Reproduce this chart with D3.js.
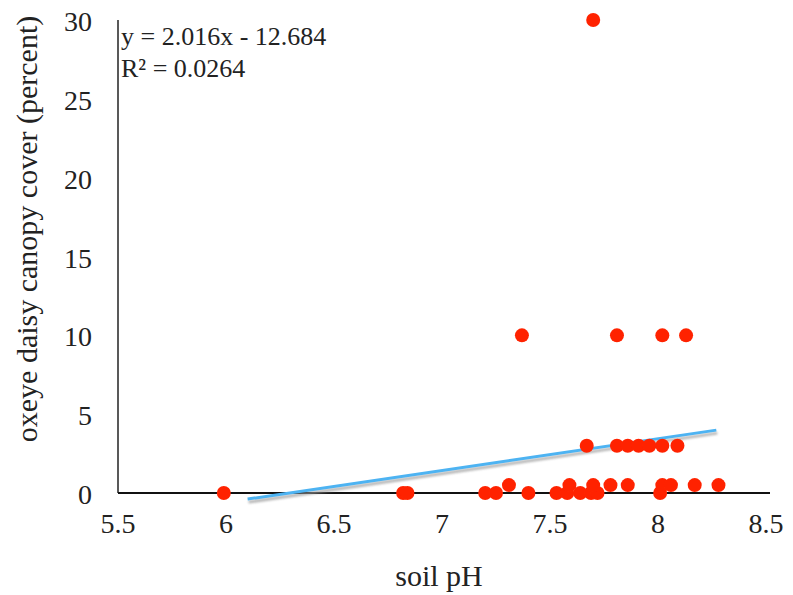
<!DOCTYPE html>
<html lang="en">
<head>
    <meta charset="UTF-8">
    <title>oxeye daisy vs soil pH</title>
    <script src="https://d3js.org/d3.v7.min.js"></script>
    <style>
        body { margin: 0; background: #fff; }
        text { font-family: 'Liberation Serif', 'Times New Roman', serif; fill: #222; }
    </style>
</head>
<body>
<script>
    // soil pH and canopy cover (percent)
    var soilPH = [5.99, 6.82, 6.84, 7.20, 7.25, 7.31, 7.40, 7.37, 7.70,
        7.53, 7.58, 7.64, 7.69, 7.72, 7.59, 7.70, 7.78, 7.86,
        7.67, 7.81, 7.86, 7.91, 7.96, 8.02, 8.09,
        7.81, 8.02, 8.13,
        8.01, 8.02, 8.06, 8.17, 8.28];
    var cover = [0, 0, 0, 0, 0, 0.5, 0, 10, 30,
        0, 0, 0, 0, 0, 0.5, 0.5, 0.5, 0.5,
        3, 3, 3, 3, 3, 3, 3,
        10, 10, 10,
        0, 0.5, 0.5, 0.5, 0.5];
    var xTicks = [5.5, 6, 6.5, 7, 7.5, 8, 8.5];
    var yTicks = [0, 5, 10, 15, 20, 25, 30];
    var slope = 2.016, intercept = -12.684;
    var trendRange = [6.1, 8.27];

    var width = 793, height = 595;
    var svg = d3.select('body').append('svg')
        .attr('width', width)
        .attr('height', height);

    var x = d3.scaleLinear().domain([5.5, 8.5]).range([118, 766]);
    var y = d3.scaleLinear().domain([0, 30]).range([493, 20]);

    // axes lines
    svg.append('line')
        .attr('x1', x(5.5)).attr('x2', x(5.5))
        .attr('y1', y(30)).attr('y2', y(0))
        .attr('stroke', '#222').attr('stroke-width', 1.5);
    svg.append('line')
        .attr('x1', x(5.5)).attr('x2', x(8.5) + 4)
        .attr('y1', y(0)).attr('y2', y(0))
        .attr('stroke', '#111').attr('stroke-width', 2);

    // tick labels
    svg.selectAll('.xt')
        .data(xTicks)
        .join('text')
        .attr('x', d => x(d))
        .attr('y', 533)
        .attr('text-anchor', 'middle')
        .style('font-size', '28px')
        .text(d => d);

    svg.selectAll('.yt')
        .data(yTicks)
        .join('text')
        .attr('x', 92)
        .attr('y', d => y(d) + 11)
        .attr('text-anchor', 'end')
        .style('font-size', '28px')
        .text(d => d);

    // axis titles
    svg.append('text')
        .attr('x', 439).attr('y', 586)
        .attr('text-anchor', 'middle')
        .style('font-size', '30px')
        .text('soil pH');
    svg.append('text')
        .attr('transform', 'translate(37,229) rotate(-90)')
        .attr('text-anchor', 'middle')
        .style('font-size', '30px')
        .text('oxeye daisy canopy cover (percent)');

    // blur for the soft dots
    var defs = svg.append('defs');
    defs.append('filter').attr('id', 'soft')
        .append('feGaussianBlur').attr('stdDeviation', 0.6);
    defs.append('filter').attr('id', 'shadow')
        .append('feGaussianBlur').attr('stdDeviation', 1.2);

    // trendline (with shadow)
    var trend = trendRange.map(v => [v, slope * v + intercept]);
    var line = d3.line().x(d => x(d[0])).y(d => y(d[1]));
    svg.append('path')
        .attr('d', line(trend))
        .attr('transform', 'translate(1,3)')
        .attr('stroke', '#999').attr('stroke-width', 3)
        .attr('fill', 'none').attr('opacity', 0.7)
        .attr('filter', 'url(#shadow)');
    svg.append('path')
        .attr('d', line(trend))
        .attr('stroke', '#4db3f2').attr('stroke-width', 3)
        .attr('fill', 'none');

    // points
    svg.append('g')
        .selectAll('circle')
        .data(soilPH.map((v, i) => ({ ph: v, c: cover[i] })))
        .join('circle')
        .attr('cx', d => x(d.ph))
        .attr('cy', d => y(d.c))
        .attr('r', 7)
        .attr('fill', '#ff2400')
        .attr('filter', 'url(#soft)');

    // equation
    svg.append('text')
        .attr('x', 121).attr('y', 45)
        .style('font-size', '26px')
        .text('y = 2.016x - 12.684');
    svg.append('text')
        .attr('x', 121).attr('y', 77)
        .style('font-size', '26px')
        .text('R² = 0.0264');
</script>
</body>
</html>
